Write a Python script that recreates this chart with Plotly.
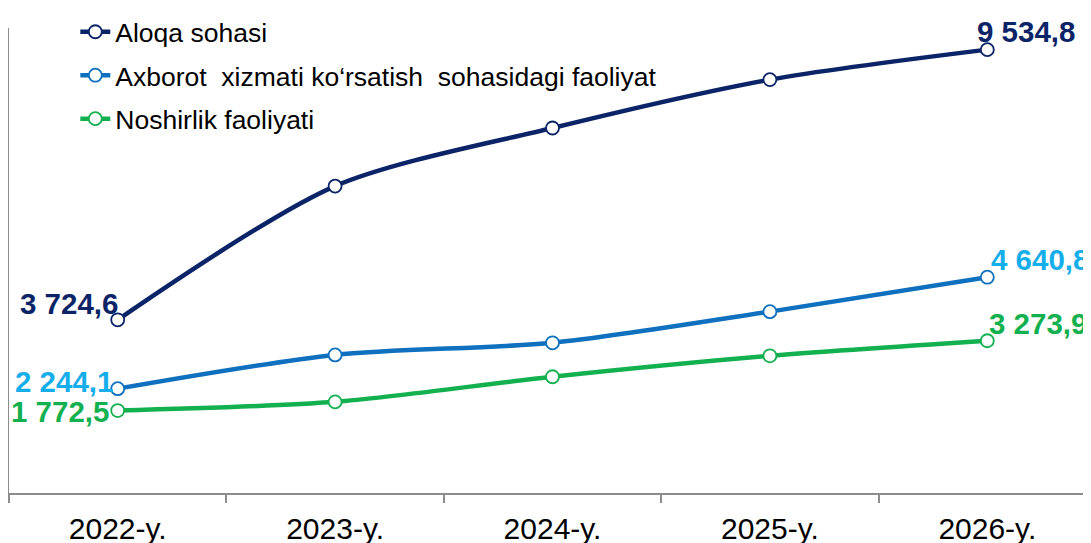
import plotly.graph_objects as go

# data
years = ["2022-y.", "2023-y.", "2024-y.", "2025-y.", "2026-y."]
aloqa = [3724.6, 6600, 7850, 8890, 9534.8]
axborot = [2244.1, 2970, 3230, 3900, 4640.8]
noshirlik = [1772.5, 1960, 2500, 2950, 3273.9]

names = [
    "Aloqa sohasi",
    "Axborot  xizmati ko\u2018rsatish  sohasidagi faoliyat",
    "Noshirlik faoliyati",
]
line_colors = ["#0B2467", "#0E70BE", "#12B04F"]
label_colors = ["#0B2467", "#16AEEA", "#12B04F"]

FONT = "Liberation Sans, Arial, sans-serif"


def fmt(v):
    """3724.6 -> '3 724,6'"""
    return f"{v:,.1f}".replace(",", " ").replace(".", ",")


fig = go.Figure()
series = [aloqa, axborot, noshirlik]
for i, vals in enumerate(series):
    fig.add_trace(go.Scatter(
        x=years, y=vals, name=names[i], mode="lines+markers",
        legendgroup=f"g{i}",
        line=dict(color=line_colors[i], width=4.5, shape="spline", smoothing=0.8),
        marker=dict(size=13, color="white", line=dict(color=line_colors[i], width=1.8)),
        cliponaxis=False,
    ))

# first / last value labels (xshift, yshift per series)
first_shift = [(2, 16), (-3, 7), (-7, -1)]
last_shift = [(-12, 18), (2, 18), (0, 17)]
for i, vals in enumerate(series):
    fig.add_annotation(
        x=years[0], y=vals[0], text=fmt(vals[0]), showarrow=False,
        xanchor="right", yanchor="middle",
        xshift=first_shift[i][0], yshift=first_shift[i][1],
        font=dict(family=FONT, size=29.5, color=label_colors[i], weight="bold"),
    )
    fig.add_annotation(
        x=years[-1], y=vals[-1], text=fmt(vals[-1]), showarrow=False,
        xanchor="left", yanchor="middle",
        xshift=last_shift[i][0], yshift=last_shift[i][1],
        font=dict(family=FONT, size=29.5, color=label_colors[i], weight="bold"),
    )

fig.update_layout(
    width=1091, height=543,
    margin=dict(l=1, r=2.5, t=0, b=58),
    paper_bgcolor="white", plot_bgcolor="white",
    font=dict(family=FONT, color="black"),
    showlegend=True,
    legend=dict(
        x=0.061, y=1.0, xanchor="left", yanchor="top",
        font=dict(family=FONT, size=26.5, color="black"),
        bgcolor="rgba(0,0,0,0)", tracegroupgap=6,
        traceorder="grouped",
    ),
    xaxis=dict(
        range=[-0.5, 4.5], showgrid=False, zeroline=False, automargin=False,
        showline=True, linecolor="#8C8C8C", linewidth=1.5,
        ticks="outside", tickson="boundaries", ticklen=8, tickcolor="#8C8C8C",
        tickwidth=1.5, ticklabelstandoff=8,
        tickfont=dict(family=FONT, size=30, color="black"),
    ),
    yaxis=dict(
        range=[0, 10000], domain=[0, 465 / 485], showgrid=False, zeroline=False,
        automargin=False,
        showline=True, linecolor="#8C8C8C", linewidth=1.5,
        showticklabels=False, ticks="",
    ),
)

fig.write_html("out.html")
